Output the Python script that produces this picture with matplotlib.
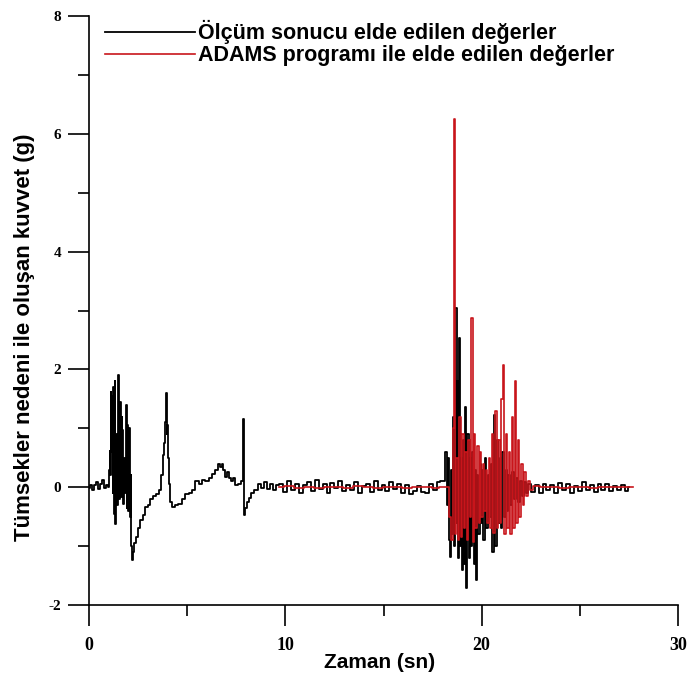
import matplotlib.pyplot as plt
from matplotlib.ticker import MultipleLocator

plt.rcParams["axes.unicode_minus"] = False

# Ölçüm sonucu (siyah) - zaman (s) ve kuvvet (g)
olcum_t = [0.0, 0.1, 0.2, 0.3, 0.4, 0.5, 0.6, 0.7, 0.8, 0.9, 1.0,
           1.05, 1.08, 1.10, 1.12, 1.16, 1.18, 1.22, 1.25, 1.28, 1.32, 1.36, 1.40, 1.44,
           1.50, 1.53, 1.56, 1.60, 1.64, 1.68, 1.72, 1.75, 1.80, 1.85, 1.90, 1.94, 1.98,
           2.02, 2.06, 2.10, 2.14, 2.18, 2.22, 2.26, 2.32, 2.43, 2.55, 2.69, 2.80, 2.94,
           3.05, 3.20, 3.35, 3.50, 3.62, 3.72, 3.79, 3.85, 3.90, 3.94, 3.97, 4.00, 4.05,
           4.10, 4.20, 4.30, 4.45, 4.64, 4.80, 5.00, 5.15, 5.32, 5.50, 5.70, 5.85, 6.00,
           6.20, 6.35, 6.50, 6.60, 6.70, 6.80, 6.90, 7.00, 7.10, 7.20, 7.30, 7.40, 7.50,
           7.65, 7.80, 7.84, 7.87, 7.90, 7.94, 8.00, 8.10, 8.20, 8.35, 8.50, 8.70, 8.85,
           9.00, 9.15, 9.30, 9.45, 9.60,
           9.8, 10.0, 10.2, 10.4, 10.6, 10.8, 11.0, 11.2, 11.4, 11.6, 11.8, 12.0, 12.2,
           12.4, 12.6, 12.8, 13.0, 13.2, 13.4, 13.6, 13.8, 14.0, 14.2, 14.4, 14.6, 14.8,
           15.0, 15.2, 15.4, 15.6, 15.8, 16.0, 16.2, 16.4, 16.6, 16.8, 17.0, 17.2, 17.4,
           17.6, 17.8, 18.0,
           18.1, 18.2, 18.25, 18.3, 18.35, 18.42, 18.48, 18.52, 18.58, 18.62, 18.70, 18.74,
           18.78, 18.82, 18.88, 18.92, 18.98, 19.02, 19.08, 19.12, 19.18, 19.24, 19.30,
           19.36, 19.42, 19.50, 19.56, 19.62, 19.68, 19.74, 19.80, 19.86, 19.92, 19.98,
           20.05, 20.12, 20.20, 20.28, 20.35, 20.42, 20.50, 20.58, 20.66, 20.72, 20.80,
           20.88, 20.95, 21.02, 21.10, 21.18, 21.25, 21.32, 21.40, 21.50, 21.60, 21.70,
           21.80, 21.90, 22.00, 22.10, 22.20, 22.30,
           22.4, 22.6, 22.8, 23.0, 23.2, 23.4, 23.6, 23.8, 24.0, 24.2, 24.4, 24.6, 24.8,
           25.0, 25.2, 25.4, 25.6, 25.8, 26.0, 26.2, 26.4, 26.6, 26.8, 27.0, 27.2, 27.4, 27.5]
olcum_g = [-0.02, 0.03, -0.05, 0.04, 0.08, -0.03, 0.05, 0.12, -0.02, 0.04, 0.0,
           0.3, 0.62, 0.2, 1.62, 0.6, 1.55, -0.1, 1.7, -0.45, 1.81, -0.62, 0.9, -0.3,
           1.9, 0.3, -0.2, 1.45, -0.17, 1.2, 0.97, -0.28, 0.5, -0.1, 1.39, -0.35, 1.05,
           -0.4, 1.0, -0.5, 0.2, -1.0, -1.24, -1.1, -0.95, -0.84, -0.7, -0.56, -0.48, -0.34,
           -0.3, -0.2, -0.15, -0.12, -0.05, 0.2, 0.54, 0.75, 1.1, 1.6, 0.9, 1.05, 0.5,
           0.06, -0.25, -0.33, -0.3, -0.28, -0.2, -0.12, -0.1, -0.05, 0.1, 0.05, 0.12, 0.1,
           0.15, 0.23, 0.3, 0.4, 0.35, 0.4, 0.3, 0.17, 0.25, 0.15, 0.1, 0.15, 0.03,
           0.05, 0.1, 0.15, 1.16, 0.5, -0.47, -0.35, -0.25, -0.18, -0.1, -0.05, 0.05, -0.02,
           0.08, -0.03, 0.06, -0.05, 0.03,
           0.05, -0.08, 0.1, -0.04, 0.06, -0.1, 0.03, 0.08, -0.06, 0.12, -0.03, 0.05, -0.09,
           0.07, -0.02, 0.1, -0.07, 0.04, -0.05, 0.09, -0.1, 0.02, 0.06, -0.08, 0.11, -0.04,
           0.03, -0.06, 0.08, -0.03, 0.05, -0.1, 0.04, -0.12, -0.06, 0.02, -0.08, -0.1, 0.05,
           -0.04, 0.08, 0.1,
           0.1, 0.6, -0.3, 0.5, -0.9, -1.19, 0.3, -0.8, 1.2, -1.0, 3.05, -0.6,
           1.8, -1.2, 2.54, -1.0, 0.5, -1.4, 0.8, -1.3, 1.36, -1.71, 0.9,
           -1.2, 0.5, -1.0, 0.6, -1.3, 0.3, -1.58, 0.2, -0.8, 0.4, -0.6,
           0.3, -0.9, 0.5, -0.7, 0.2, -0.5, 0.4, -1.1, 1.22, -1.0, 0.8,
           -0.6, 0.5, -0.7, 0.6, -0.5, 0.3, -0.4, 0.2, -0.3, 0.25, -0.2,
           0.15, -0.25, 0.1, -0.15, 0.08, -0.1,
           0.05, -0.08, 0.04, -0.1, 0.06, -0.05, 0.03, -0.09, 0.07, -0.04, 0.05, -0.1, 0.02,
           -0.06, 0.08, -0.05, 0.03, -0.08, 0.06, -0.04, 0.05, -0.07, 0.02, -0.05, 0.04, -0.06, 0.0]

# ADAMS programı (kırmızı)
adams_t = [9.7, 10.2, 10.7, 11.2, 11.7, 12.2, 12.7, 13.2, 13.7, 14.2, 14.7, 15.2, 15.7,
           16.2, 16.7, 17.2, 17.7, 18.0, 18.3,
           18.4, 18.48, 18.55, 18.6, 18.68, 18.75, 18.82, 18.9, 18.98, 19.05, 19.12, 19.2,
           19.28, 19.36, 19.44, 19.52, 19.58, 19.65, 19.72, 19.8, 19.88, 19.95, 20.02, 20.1,
           20.18, 20.25, 20.32, 20.4, 20.48, 20.56, 20.64, 20.72, 20.8, 20.88, 20.96, 21.05,
           21.1, 21.18, 21.26, 21.34, 21.42, 21.5, 21.58, 21.66, 21.74, 21.8, 21.88, 21.95,
           22.05, 22.12, 22.2, 22.3, 22.4, 22.5, 22.7,
           23.2, 23.7, 24.2, 24.7, 25.2, 25.7, 26.2, 26.7, 27.2, 27.7]
adams_g = [0.0, 0.02, -0.01, 0.01, -0.02, 0.01, 0.0, -0.01, 0.02, 0.0, -0.01, 0.01, 0.0,
           -0.02, 0.01, 0.0, -0.01, 0.0, 0.0,
           -0.5, -0.9, 1.0, 6.25, -0.8, 0.5, -0.9, 1.2, -0.85, 0.9, -0.7, 0.6,
           -0.9, 0.8, -0.5, 2.88, -0.93, 0.9, -0.7, 0.7, -0.6, 0.6, -0.5, 0.4,
           -0.4, 0.3, -0.6, 0.5, -0.7, 0.9, -0.78, 1.3, -0.7, 0.8, -0.6, 1.5,
           2.07, -0.8, 0.9, -0.7, 0.6, -0.8, 1.2, -0.7, 1.81, -0.6, 0.8, -0.5,
           0.4, -0.3, 0.25, -0.15, 0.1, -0.05, 0.02,
           0.0, 0.01, -0.01, 0.0, 0.01, -0.01, 0.0, 0.01, 0.0, 0.0]

etiketler = ["Ölçüm sonucu elde edilen değerler",
             "ADAMS programı ile elde edilen değerler"]

sans = ['Liberation Sans', 'DejaVu Sans']
serif = ['Liberation Serif', 'DejaVu Serif']

fig = plt.figure(figsize=(6.87, 6.79), dpi=100)
ax = fig.add_axes([89 / 687, 1 - 605 / 679, (678 - 89) / 687, (605 - 16) / 679])

ax.plot(olcum_t, olcum_g, color="black", linewidth=1.3, drawstyle="steps-mid", label=etiketler[0])
ax.plot(adams_t, adams_g, color="#c8151b", linewidth=1.2, drawstyle="steps-mid", label=etiketler[1])

ax.set_xlim(0, 30)
ax.set_ylim(-2, 8)
ax.xaxis.set_major_locator(MultipleLocator(10))
ax.xaxis.set_minor_locator(MultipleLocator(5))
ax.yaxis.set_major_locator(MultipleLocator(2))
ax.yaxis.set_minor_locator(MultipleLocator(1))

for s in ["top", "right"]:
    ax.spines[s].set_visible(False)
for s in ["left", "bottom"]:
    ax.spines[s].set_linewidth(1.2)

ax.tick_params(which="major", direction="out", length=15, width=1.2)
ax.tick_params(which="minor", direction="out", length=8, width=1.2)
ax.tick_params(axis="x", which="major", pad=8)
ax.tick_params(axis="y", which="major", pad=5)
for lab in ax.get_xticklabels():
    lab.set_fontfamily(serif)
    lab.set_fontweight("bold")
    lab.set_fontsize(13)
for lab in ax.get_yticklabels():
    lab.set_fontfamily(serif)
    lab.set_fontweight("bold")
    lab.set_fontsize(11)

ax.set_xlabel("Zaman (sn)", family=sans, fontweight="bold", fontsize=15)
ax.xaxis.set_label_coords(0.494, -0.081)
ax.set_ylabel("Tümsekler nedeni ile oluşan kuvvet (g)", family=sans, fontweight="bold", fontsize=16)
ax.yaxis.set_label_coords(-0.092, 0.455)

ax.legend(loc="upper left", bbox_to_anchor=(105 / 687, 1 - 20 / 679), bbox_transform=fig.transFigure,
          frameon=False, borderpad=0, borderaxespad=0, handlelength=4.2, handletextpad=0.12,
          labelspacing=0.05, prop={"family": sans, "weight": "bold", "size": 15.5})

fig.savefig("out.png", dpi=100)
